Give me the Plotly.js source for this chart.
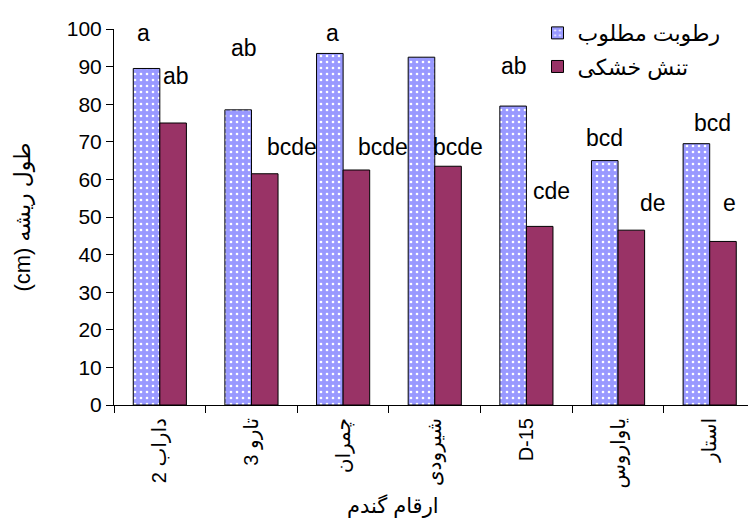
<!DOCTYPE html>
<html>
<head>
<meta charset="utf-8">
<script src="https://cdn.plot.ly/plotly-3.0.1.min.js"></script>
<style>html,body{margin:0;padding:0;background:#fff;}#chart{width:748px;height:522px;}</style>
</head>
<body>
<div id="chart"></div>
<script>
// Categories (wheat cultivars), visual order for rotated labels
var categories = ["2 داراب", "3 تارو", "چمران", "شیرودی", "D-15", "یاواروس", "استار"];
// Root length (cm)
var normalMoisture = [89.5, 78.5, 93.5, 92.5, 79.5, 65, 69.5];
var droughtStress  = [75, 61.5, 62.5, 63.5, 47.5, 46.5, 43.5];
// Significance letters
var normalLetters  = ["a", "ab", "a", "a", "ab", "bcd", "bcd"];
var droughtLetters = ["ab", "bcde", "bcde", "bcde", "cde", "de", "e"];
var seriesNames = ["رطوبت مطلوب", "تنش خشکی"];
var yTicks = [0, 10, 20, 30, 40, 50, 60, 70, 80, 90, 100];
var xTitle = "ارقام گندم";
var yTitle = "(cm) طول ریشه";

// Label placement (layout only)
var normalLabelX  = [-0.176, 0.915, 1.885, 2.915, 3.867, 4.848, 6.034];
var normalLabelY  = [98.9, 94.9, 98.9, 101.7, 90.2, 70.9, 74.9];
var droughtLabelX = [0.173, 1.443, 2.436, 3.256, 4.272, 5.386, 6.211];
var droughtLabelY = [87.5, 68.7, 68.7, 68.7, 56.9, 53.8, 53.8];

var FONT = "Liberation Sans, Arial, DejaVu Sans, sans-serif";

var traces = [
  {
    type: "bar", x: categories, y: normalMoisture, name: seriesNames[0],
    legendgroup: "g1",
    marker: {
      color: "#9999ff",
      line: {color: "#000", width: 1},
      pattern: {shape: ".", bgcolor: "#9999ff", fgcolor: "#ffffff", size: 6, solidity: 0.15, fillmode: "replace"}
    },
    hoverinfo: "y"
  },
  {
    type: "bar", x: categories, y: droughtStress, name: seriesNames[1],
    legendgroup: "g2",
    marker: {color: "#993366", line: {color: "#000", width: 1}},
    hoverinfo: "y"
  }
];

var annotations = [];
for (var i = 0; i < categories.length; i++) {
  annotations.push({x: normalLabelX[i], y: normalLabelY[i], xref: "x", yref: "y",
    text: normalLetters[i], showarrow: false, font: {family: FONT, size: 23, color: "#000"}});
  annotations.push({x: droughtLabelX[i], y: droughtLabelY[i], xref: "x", yref: "y",
    text: droughtLetters[i], showarrow: false, font: {family: FONT, size: 23, color: "#000"}});
}
annotations.push({x: 0.44, y: -0.269, xref: "paper", yref: "paper", xanchor: "center", yanchor: "middle",
  text: xTitle, showarrow: false, font: {family: FONT, size: 21, color: "#000"}});

var layout = {
  width: 748, height: 522,
  margin: {l: 114, r: 0, t: 29, b: 117},
  paper_bgcolor: "#fff", plot_bgcolor: "#fff",
  barmode: "group", bargap: 0.42, bargroupgap: 0,
  showlegend: true,
  legend: {x: 0.668, y: 1.045, xanchor: "left", yanchor: "top",
    font: {family: FONT, size: 22, color: "#000"}, tracegroupgap: 2,
    bgcolor: "rgba(0,0,0,0)"},
  font: {family: FONT, color: "#000"},
  xaxis: {
    type: "category", range: [-0.5, 6.418],
    showline: true, linecolor: "#000", linewidth: 1,
    ticks: "outside", tickson: "boundaries", ticklen: 7, tickcolor: "#000",
    tickangle: -90, tickfont: {family: FONT, size: 20, color: "#000"},
    ticklabelstandoff: 4,
    showgrid: false, zeroline: false, fixedrange: true
  },
  yaxis: {
    range: [0, 100], tickvals: yTicks,
    showline: true, linecolor: "#000", linewidth: 1,
    ticks: "outside", ticklen: 7, tickcolor: "#000",
    tickfont: {family: FONT, size: 21, color: "#000"},
    showgrid: false, zeroline: false, fixedrange: true,
    title: {text: yTitle, font: {family: FONT, size: 22, color: "#000"}, standoff: 30}
  },
  annotations: annotations
};

Plotly.newPlot("chart", traces, layout, {displayModeBar: false, staticPlot: true});
</script>
</body>
</html>
